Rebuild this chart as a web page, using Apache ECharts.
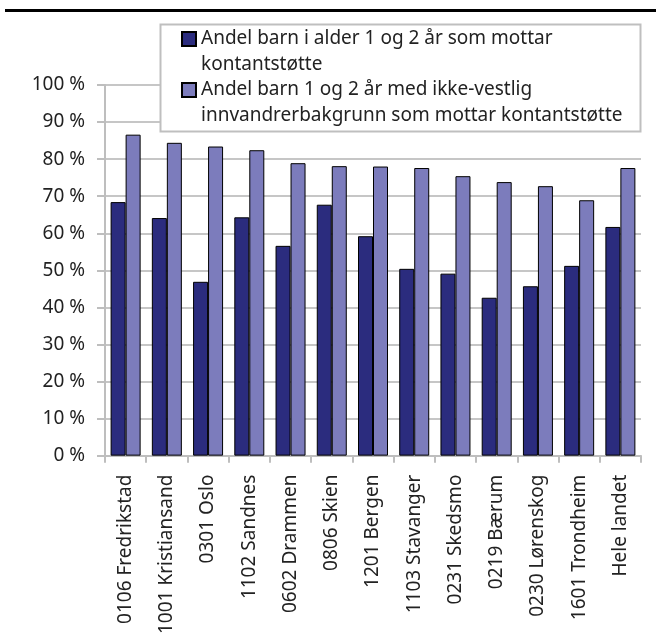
<!DOCTYPE html>
<html>
<head>
<meta charset="utf-8">
<script src="https://cdn.jsdelivr.net/npm/echarts@6/dist/echarts.min.js"></script>
<style>
html,body{margin:0;padding:0;background:#fff;}
#c{width:656px;height:637px;}
</style>
</head>
<body>
<div id="c"></div>
<script>
var categories = ['0106 Fredrikstad','1001 Kristiansand','0301 Oslo','1102 Sandnes','0602 Drammen','0806 Skien','1201 Bergen','1103 Stavanger','0231 Skedsmo','0219 Bærum','0230 Lørenskog','1601 Trondheim','Hele landet'];
var seriesNames = ['Andel barn i alder 1 og 2 år som mottar\nkontantstøtte','Andel barn 1 og 2 år med ikke-vestlig\ninnvandrerbakgrunn som mottar kontantstøtte'];
var allChildren = [68.4, 64.1, 46.9, 64.3, 56.6, 67.7, 59.2, 50.4, 49.1, 42.6, 45.7, 51.2, 61.7];
var nonWestern = [86.6, 84.4, 83.4, 82.4, 78.9, 78.1, 78.0, 77.6, 75.4, 73.8, 72.7, 68.9, 77.6];
var yTicks = {min: 0, max: 100, interval: 10};

var FONT = '"Noto Sans", sans-serif';
var TXT = '#222';
var L = 25.5;
var chart = echarts.init(document.getElementById('c'), null, {renderer: 'canvas'});
chart.setOption({
  animation: false,
  backgroundColor: '#fff',
  textStyle: {fontFamily: FONT},
  grid: {left: 105, right: 15, top: 85, bottom: 179, containLabel: false},
  graphic: [
    {type: 'rect', z: 10, silent: true, shape: {x: 5, y: 9, width: 651, height: 3}, style: {fill: '#000'}},
    {type: 'rect', z: 8, silent: true, shape: {x: 160.5, y: 24.5, width: 480, height: 107}, style: {fill: '#fff', stroke: '#BFBFBF', lineWidth: 2}}
  ],
  legend: {
    z: 12,
    orient: 'vertical',
    left: 181,
    top: 39 - 1.5 * L,
    padding: 0,
    itemGap: -L,
    itemWidth: 14,
    itemHeight: 14,
    icon: 'rect',
    selectedMode: false,
    formatter: function (name) { return '\n' + name; },
    textStyle: {fontFamily: FONT, fontSize: 19, color: TXT, lineHeight: L},
    data: seriesNames
  },
  xAxis: {
    type: 'category',
    data: categories,
    boundaryGap: true,
    axisLine: {lineStyle: {color: '#BEBEBE', width: 2}},
    axisTick: {show: true, length: 7, lineStyle: {color: '#BEBEBE', width: 2}},
    axisLabel: {interval: 0, rotate: 90, margin: 19, fontSize: 19, color: TXT, fontFamily: FONT}
  },
  yAxis: {
    type: 'value',
    min: yTicks.min, max: yTicks.max, interval: yTicks.interval,
    axisLine: {show: true, lineStyle: {color: '#BEBEBE', width: 2}},
    axisTick: {show: true, length: 8, lineStyle: {color: '#BEBEBE', width: 2}},
    splitLine: {show: true, lineStyle: {color: '#C6C6C6', width: 2}},
    axisLabel: {formatter: '{value} %', margin: 20, fontSize: 19, color: TXT, fontFamily: FONT}
  },
  series: [
    {name: seriesNames[0], type: 'bar', data: allChildren, barWidth: 15, barGap: '0%',
     itemStyle: {color: '#2B2C7E', borderColor: '#000', borderWidth: 1}},
    {name: seriesNames[1], type: 'bar', data: nonWestern, barWidth: 15, barGap: '0%',
     itemStyle: {color: '#7C7CBC', borderColor: '#000', borderWidth: 1}}
  ]
});
</script>
</body>
</html>
